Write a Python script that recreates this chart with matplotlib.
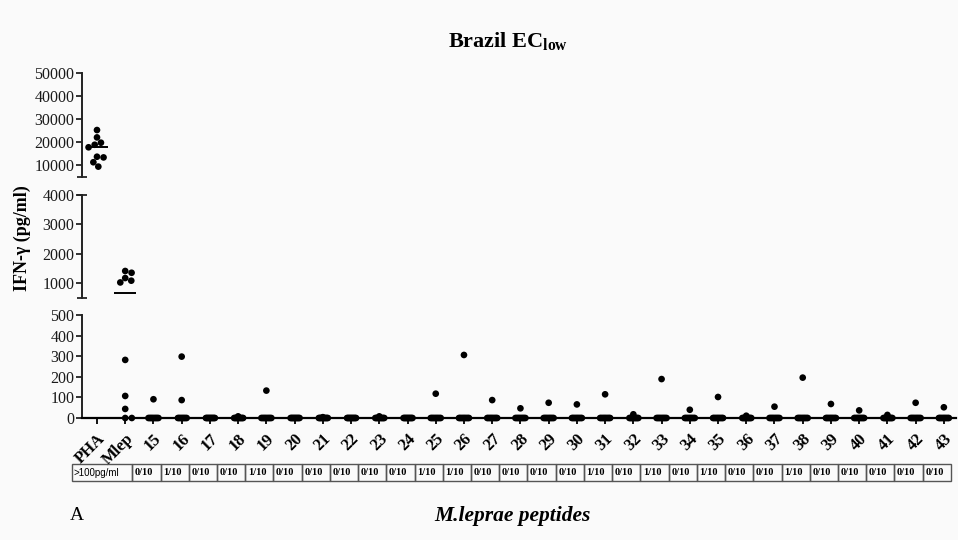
import numpy as np
import matplotlib
matplotlib.use("Agg")
import matplotlib.pyplot as plt
from matplotlib.patches import Rectangle

plt.rcParams['font.family'] = ['Liberation Serif', 'DejaVu Serif']
plt.rcParams['mathtext.fontset'] = 'custom'
plt.rcParams['mathtext.bf'] = 'Liberation Serif:bold'
plt.rcParams['mathtext.rm'] = 'Liberation Serif'

# ---- data: IFN-gamma (pg/ml) per donor ----
categories = ['PHA', 'Mlep'] + [str(n) for n in range(15, 44)]

pha = [25200, 22000, 19700, 18800, 17700, 13300, 13600, 11200, 9300]
mlep = [1410, 1350, 1170, 1080, 1020, 282, 107, 44, 0, 0]

peptide_values = [
    [91, 0, 0, 0, 0, 0, 0, 0, 0, 0],     # 15
    [298, 87, 0, 0, 0, 0, 0, 0, 0, 0],   # 16
    [0, 0, 0, 0, 0, 0, 0, 0, 0, 0],      # 17
    [8, 0, 0, 0, 0, 0, 0, 0, 0, 0],      # 18
    [133, 0, 0, 0, 0, 0, 0, 0, 0, 0],    # 19
    [0, 0, 0, 0, 0, 0, 0, 0, 0, 0],      # 20
    [4, 0, 0, 0, 0, 0, 0, 0, 0, 0],      # 21
    [0, 0, 0, 0, 0, 0, 0, 0, 0, 0],      # 22
    [8, 0, 0, 0, 0, 0, 0, 0, 0, 0],      # 23
    [0, 0, 0, 0, 0, 0, 0, 0, 0, 0],      # 24
    [118, 0, 0, 0, 0, 0, 0, 0, 0, 0],    # 25
    [306, 0, 0, 0, 0, 0, 0, 0, 0, 0],    # 26
    [87, 0, 0, 0, 0, 0, 0, 0, 0, 0],     # 27
    [47, 0, 0, 0, 0, 0, 0, 0, 0, 0],     # 28
    [74, 0, 0, 0, 0, 0, 0, 0, 0, 0],     # 29
    [66, 0, 0, 0, 0, 0, 0, 0, 0, 0],     # 30
    [115, 0, 0, 0, 0, 0, 0, 0, 0, 0],    # 31
    [18, 0, 0, 0, 0, 0, 0, 0, 0, 0],     # 32
    [189, 0, 0, 0, 0, 0, 0, 0, 0, 0],    # 33
    [40, 0, 0, 0, 0, 0, 0, 0, 0, 0],     # 34
    [102, 0, 0, 0, 0, 0, 0, 0, 0, 0],    # 35
    [11, 0, 0, 0, 0, 0, 0, 0, 0, 0],     # 36
    [55, 0, 0, 0, 0, 0, 0, 0, 0, 0],     # 37
    [196, 0, 0, 0, 0, 0, 0, 0, 0, 0],    # 38
    [68, 0, 0, 0, 0, 0, 0, 0, 0, 0],     # 39
    [37, 0, 0, 0, 0, 0, 0, 0, 0, 0],     # 40
    [15, 0, 0, 0, 0, 0, 0, 0, 0, 0],     # 41
    [74, 0, 0, 0, 0, 0, 0, 0, 0, 0],     # 42
    [52, 0, 0, 0, 0, 0, 0, 0, 0, 0],     # 43
]

threshold = 100
top_ticks = [10000, 20000, 30000, 40000, 50000]
mid_ticks = [1000, 2000, 3000, 4000]
low_ticks = [0, 100, 200, 300, 400, 500]

all_values = [pha, mlep] + peptide_values

# ---- figure and broken y axis (three stacked panels) ----
W, H = 958, 540
fig = plt.figure(figsize=(W / 100, H / 100), dpi=100)
bg = '#fafafa'
fig.patch.set_facecolor(bg)

left_px, right_px = 82, 956
xlim = (-0.531, 30.43)

def rect(top_px, bot_px):
    return [left_px / W, 1 - bot_px / H, (right_px - left_px) / W, (bot_px - top_px) / H]

ax_top = fig.add_axes(rect(73, 176.5))
ax_mid = fig.add_axes(rect(195, 297.7))
ax_low = fig.add_axes(rect(315, 418))

ax_top.set_ylim(5000, 50000)
ax_mid.set_ylim(500, 4000)
ax_low.set_ylim(0, 500)
segments = [(ax_top, 5000, 50000), (ax_mid, 500, 5000), (ax_low, 0, 500)]

spine_col = '#222222'
for ax, ticks in [(ax_top, top_ticks), (ax_mid, mid_ticks), (ax_low, low_ticks)]:
    ax.set_facecolor('none')
    ax.set_xlim(*xlim)
    for s in ['top', 'right']:
        ax.spines[s].set_visible(False)
    ax.spines['left'].set_color(spine_col)
    ax.spines['left'].set_linewidth(1.4)
    ax.set_yticks(ticks)
    ax.set_yticklabels([str(t) for t in ticks], fontsize=11.5, color='#1a1a1a')
    ax.tick_params(axis='y', direction='out', length=4, width=1.3, pad=1.5, color=spine_col)

for ax in (ax_top, ax_mid):
    ax.spines['bottom'].set_visible(False)
    ax.set_xticks([])

ax_low.spines['bottom'].set_color('black')
ax_low.spines['bottom'].set_linewidth(1.6)
ax_low.set_xticks(range(len(categories)))
ax_low.set_xticklabels(categories, rotation=45, ha='right', va='top',
                       rotation_mode='anchor', fontsize=12, fontweight='bold')
ax_low.tick_params(axis='x', direction='out', length=4, width=1.3, pad=5, color='black')

# break marks on the y axis
def break_mark(ax, y_axes):
    dx = 5 / (right_px - left_px)
    ax.plot([-dx, dx], [y_axes, y_axes], transform=ax.transAxes, color=spine_col,
            lw=1.3, clip_on=False, solid_capstyle='butt')

break_mark(ax_top, 0)
break_mark(ax_mid, 1)
break_mark(ax_mid, 0)

# ---- scatter with swarm-style horizontal spread ----
DOT = 6.6  # marker diameter in pixels

def swarm_x(ax, xc, vals, max_half_px):
    vals = np.asarray(vals, float)
    pts = ax.transData.transform(np.column_stack([np.full(len(vals), xc), vals]))
    ys = pts[:, 1]
    order = np.argsort(-ys)
    placed = []
    offs = np.zeros(len(vals))
    for i in order:
        cands = [0.0]
        for ox, oy in placed:
            dy = ys[i] - oy
            if abs(dy) < DOT:
                dx = np.sqrt(DOT ** 2 - dy ** 2)
                cands += [ox + dx, ox - dx]
        cands.sort(key=abs)
        for c in cands:
            if all((c - ox) ** 2 + (ys[i] - oy) ** 2 >= DOT ** 2 - 1e-6 for ox, oy in placed):
                offs[i] = c
                break
        placed.append((offs[i], ys[i]))
    m = np.abs(offs).max() if len(offs) else 0
    if m > max_half_px:
        offs *= max_half_px / m
    ppu = ax.transData.transform([(1, 0)])[0, 0] - ax.transData.transform([(0, 0)])[0, 0]
    return xc + offs / ppu

for i, vals in enumerate(all_values):
    vals = np.asarray(vals, float)
    spread = 12 if i < 2 else 5
    for ax, lo, hi in segments:
        sel = vals[(vals >= lo) & (vals < hi)]
        if len(sel) == 0:
            continue
        xs = swarm_x(ax, i, sel, spread)
        ax.scatter(xs, sel, s=23, color='black', edgecolors='none', zorder=5, clip_on=False)
    med = np.median(vals)
    for ax, lo, hi in segments:
        if lo <= med < hi:
            half = 0.38 if i < 2 else 0.3
            ax.plot([i - half, i + half], [med, med], color='black', lw=1.4, zorder=4,
                    solid_capstyle='butt')
            break

# ---- responder table below the axis ----
tax = fig.add_axes([left_px / W, 1 - 481 / H, (right_px - left_px) / W, 17 / H])
tax.set_xlim(*xlim)
tax.set_ylim(0, 1)
tax.axis('off')
edge = '#555555'
tax.add_patch(Rectangle((-0.886, 0), 1.2 - (-0.886) + 0.05, 1, fill=False, ec=edge, lw=1.0,
                        clip_on=False))
tax.text(-0.84, 0.5, '>100pg/ml', fontsize=7, family=['Liberation Sans Narrow', 'Liberation Sans'],
         ha='left', va='center', clip_on=False)
for j, vals in enumerate(peptide_values):
    xc = j + 2
    n_pos = int(np.sum(np.asarray(vals) > threshold))
    tax.add_patch(Rectangle((xc - 0.75, 0), 1.0, 1, fill=False, ec=edge, lw=1.0, clip_on=False))
    tax.text(xc - 0.66, 0.5, f'{n_pos}/{len(vals)}', fontsize=7.5, fontweight='bold',
             ha='left', va='center', clip_on=False)

# ---- titles and labels ----
fig.text(508 / W, 1 - 42 / H, r'Brazil EC$_{\mathbf{low}}$', fontsize=16, fontweight='bold',
         ha='center', va='center')
fig.text(22 / W, 1 - 238 / H, 'IFN-γ (pg/ml)', fontsize=13, fontweight='bold',
         rotation=90, ha='center', va='center')
fig.text(512 / W, 1 - 516 / H, 'M.leprae peptides', fontsize=15.5, fontweight='bold',
         fontstyle='italic', ha='center', va='center')
fig.text(70 / W, 1 - 516 / H, 'A', fontsize=14, ha='left', va='center')

fig.savefig('out.png', dpi=100, facecolor=bg)
